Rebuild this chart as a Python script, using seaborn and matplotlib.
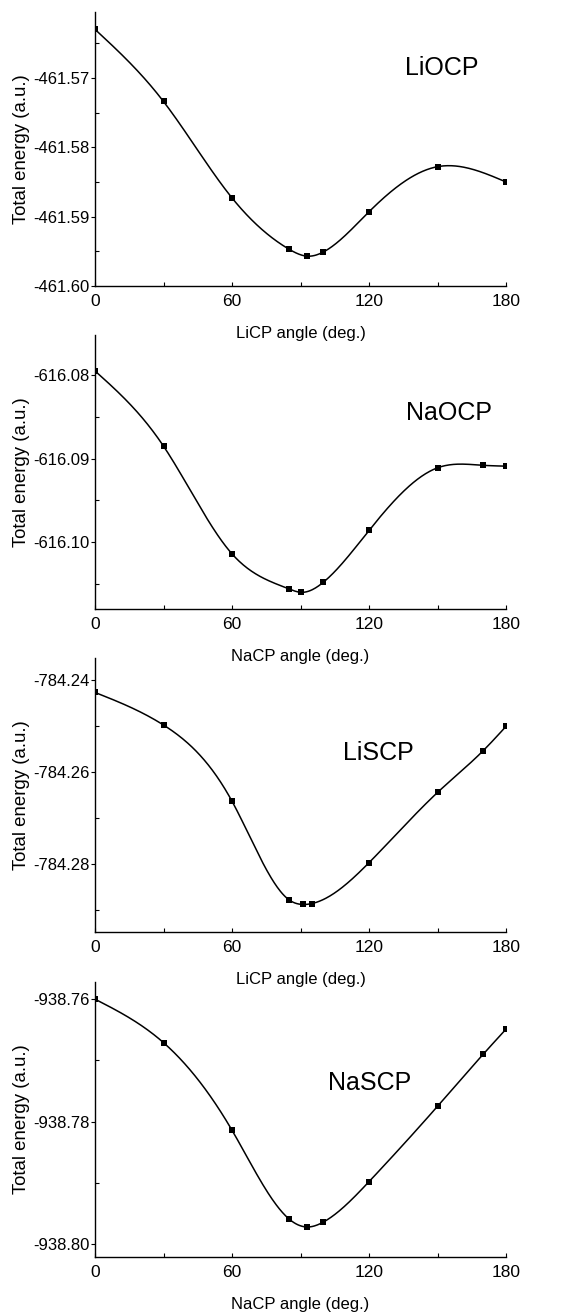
import numpy as np
import pandas as pd
import matplotlib.pyplot as plt
import seaborn as sns
from matplotlib.ticker import MultipleLocator, FormatStrFormatter

# Values (angle in deg., total energy in a.u.)
angle_liocp = [0, 30, 60, 85, 93, 100, 120, 150, 180]
energy_liocp = [-461.5630, -461.5734, -461.5873, -461.5947, -461.5957,
                -461.5951, -461.5893, -461.5828, -461.5850]

angle_naocp = [0, 30, 60, 85, 90, 100, 120, 150, 170, 180]
energy_naocp = [-616.0795, -616.0885, -616.1014, -616.1056, -616.1060,
                -616.1048, -616.0986, -616.0911, -616.0908, -616.0909]

angle_liscp = [0, 30, 60, 85, 91, 95, 120, 150, 170, 180]
energy_liscp = [-784.2427, -784.2498, -784.2664, -784.2879, -784.2889,
                -784.2887, -784.2798, -784.2645, -784.2554, -784.2501]

angle_nascp = [0, 30, 60, 85, 93, 100, 120, 150, 170, 180]
energy_nascp = [-938.7600, -938.7671, -938.7814, -938.7959, -938.7972,
                -938.7964, -938.7898, -938.7775, -938.7690, -938.7649]

names = ["LiOCP", "NaOCP", "LiSCP", "NaSCP"]
xlabels = ["LiCP angle (deg.)", "NaCP angle (deg.)",
           "LiCP angle (deg.)", "NaCP angle (deg.)"]


def smooth(x, y, n=400):
    # natural cubic spline through the measured points, for the drawn curve
    x = np.asarray(x, float)
    y = np.asarray(y, float)
    h = np.diff(x)
    m = len(x)
    A = np.zeros((m, m))
    r = np.zeros(m)
    A[0, 0] = A[-1, -1] = 1
    for i in range(1, m - 1):
        A[i, i - 1] = h[i - 1]
        A[i, i] = 2 * (h[i - 1] + h[i])
        A[i, i + 1] = h[i]
        r[i] = 6 * ((y[i + 1] - y[i]) / h[i] - (y[i] - y[i - 1]) / h[i - 1])
    M = np.linalg.solve(A, r)
    xs = np.linspace(x[0], x[-1], n)
    k = np.clip(np.searchsorted(x, xs) - 1, 0, m - 2)
    t0 = xs - x[k]
    t1 = x[k + 1] - xs
    hk = h[k]
    ys = (M[k] * t1 ** 3 / (6 * hk) + M[k + 1] * t0 ** 3 / (6 * hk)
          + (y[k] / hk - M[k] * hk / 6) * t1
          + (y[k + 1] / hk - M[k + 1] * hk / 6) * t0)
    return xs, ys


sns.set_theme(style="white")
plt.rcParams['font.family'] = ['Liberation Sans', 'DejaVu Sans']
plt.rcParams['text.color'] = 'black'
plt.rcParams['axes.labelcolor'] = 'black'
plt.rcParams['xtick.color'] = 'black'
plt.rcParams['ytick.color'] = 'black'

panels = [
    (angle_liocp, energy_liocp, (-461.60, -461.5605), 0.01, 0.005, (0.844, 0.796)),
    (angle_naocp, energy_naocp, (-616.108, -616.0752), 0.01, 0.005, (0.861, 0.715)),
    (angle_liscp, energy_liscp, (-784.2949, -784.2352), 0.02, 0.01, (0.689, 0.653)),
    (angle_nascp, energy_nascp, (-938.8021, -938.7572), 0.02, 0.01, (0.669, 0.633)),
]
# axes boxes in pixels: (top, bottom)
boxes = [(12, 286), (335, 609), (658, 932), (982, 1257)]

W, H = 571, 1314
fig = plt.figure(figsize=(W / 100, H / 100), dpi=100)

for i, (ang, en, ylim, major, minor, lab) in enumerate(panels):
    top, bot = boxes[i]
    ax = fig.add_axes([95 / W, 1 - bot / H, 411 / W, (bot - top) / H])
    ax.patch.set_alpha(0)
    df = pd.DataFrame({"angle": ang, "energy": en})
    xs, ys = smooth(ang, en)
    curve = pd.DataFrame({"angle": xs, "energy": ys})
    sns.lineplot(data=curve, x="angle", y="energy", ax=ax, color="black",
                 linewidth=1.1, sort=False)
    sns.scatterplot(data=df, x="angle", y="energy", ax=ax, color="black",
                    marker="s", s=14, linewidth=0, zorder=3)
    ax.set_xlim(0, 180)
    ax.set_ylim(*ylim)
    ax.xaxis.set_major_locator(MultipleLocator(60))
    ax.xaxis.set_minor_locator(MultipleLocator(30))
    ax.yaxis.set_major_locator(MultipleLocator(major))
    ax.yaxis.set_minor_locator(MultipleLocator(minor))
    ax.yaxis.set_major_formatter(FormatStrFormatter("%.2f"))
    for s in ["top", "right"]:
        ax.spines[s].set_visible(False)
    for s in ["left", "bottom"]:
        ax.spines[s].set_color("black")
        ax.spines[s].set_linewidth(1.0)
    ax.tick_params(axis="x", which="both", direction="in", length=3,
                   width=0.8, labelsize=12.5, pad=6, bottom=True)
    ax.tick_params(axis="y", which="major", direction="out", length=3,
                   width=0.8, labelsize=12, pad=1, left=True)
    ax.tick_params(axis="y", which="minor", direction="in", length=3,
                   width=0.8, left=True)
    ax.set_xlabel(xlabels[i], fontsize=12, labelpad=12)
    ax.set_ylabel("Total energy (a.u.)", fontsize=13.4, labelpad=2)
    ax.text(lab[0], lab[1], names[i], transform=ax.transAxes,
            ha="center", va="center", fontsize=18)

fig.savefig("out.png", dpi=100)
